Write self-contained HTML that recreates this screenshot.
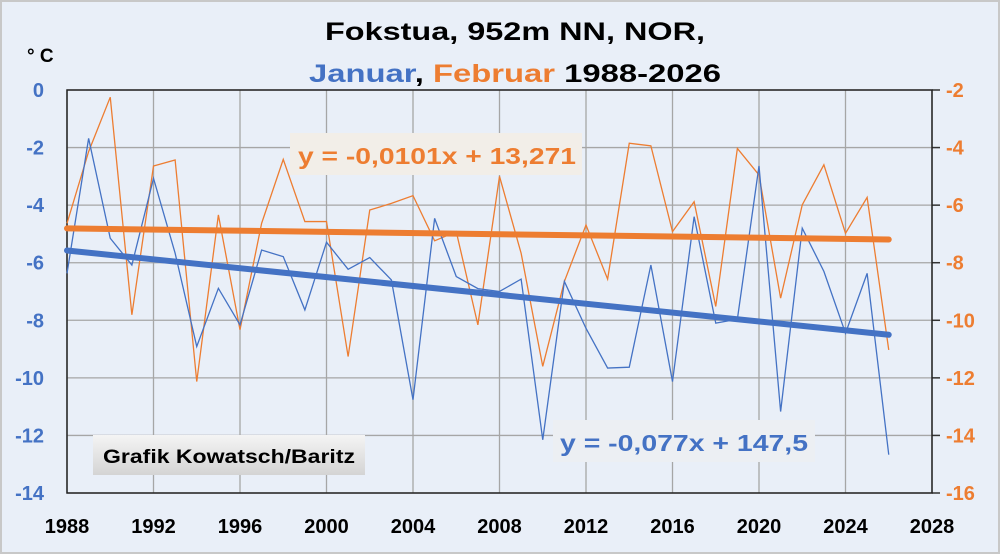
<!DOCTYPE html>
<html><head><meta charset="utf-8">
<style>
html,body{margin:0;padding:0;background:#e9eff8;}
svg{display:block;font-family:"Liberation Sans",sans-serif;}
</style></head>
<body>
<svg id="chart" width="1000" height="554" viewBox="0 0 1000 554" xmlns="http://www.w3.org/2000/svg">
<rect x="1" y="1" width="998" height="552" fill="#e9eff8" stroke="#c8c8c8" stroke-width="2"/>
<g id="grid"></g>
<g id="axes"></g>
<g id="series"></g>
<text x="515" y="40" text-anchor="middle" font-size="25" font-weight="bold" fill="#000" textLength="380" lengthAdjust="spacingAndGlyphs">Fokstua, 952m NN, NOR,</text>
<text x="515" y="82" text-anchor="middle" font-size="25" font-weight="bold" textLength="412" lengthAdjust="spacingAndGlyphs"><tspan fill="#4472c4">Januar</tspan><tspan fill="#000">, </tspan><tspan fill="#ed7d31">Februar</tspan><tspan fill="#000"> 1988-2026</tspan></text>
<text x="27" y="62" font-size="19" font-weight="bold" fill="#000">° C</text>
<rect x="290" y="133" width="292" height="42" fill="#f2eee8"/>
<text x="298" y="164" font-size="23" font-weight="bold" fill="#ed7d31" textLength="278" lengthAdjust="spacingAndGlyphs">y = -0,0101x + 13,271</text>
<rect x="553" y="420" width="262" height="42" fill="#eceff3"/>
<text x="560" y="451" font-size="23" font-weight="bold" fill="#4472c4" textLength="248" lengthAdjust="spacingAndGlyphs">y = -0,077x + 147,5</text>
<defs><linearGradient id="gb" x1="0" y1="0" x2="0" y2="1"><stop offset="0" stop-color="#f4f4f4"/><stop offset="1" stop-color="#d4d4d4"/></linearGradient></defs>
<rect x="93" y="435" width="272" height="40" fill="url(#gb)"/>
<text x="103" y="463" font-size="19" font-weight="bold" fill="#000" textLength="252" lengthAdjust="spacingAndGlyphs">Grafik Kowatsch/Baritz</text>
</svg>
<script>
const years = [1988,1989,1990,1991,1992,1993,1994,1995,1996,1997,1998,1999,2000,2001,2002,2003,2004,2005,2006,2007,2008,2009,2010,2011,2012,2013,2014,2015,2016,2017,2018,2019,2020,2021,2022,2023,2024,2025,2026];
const janValues = [-6.37,-1.68,-5.15,-6.08,-3.07,-5.67,-8.91,-6.89,-8.16,-5.56,-5.79,-7.64,-5.29,-6.23,-5.82,-6.6,-10.76,-4.46,-6.48,-6.9,-7.0,-6.57,-12.15,-6.65,-8.28,-9.66,-9.63,-6.08,-10.13,-4.4,-8.1,-7.96,-2.64,-11.17,-4.8,-6.3,-8.45,-6.37,-12.67];
const febValues = [-6.63,-4.14,-2.25,-9.81,-4.64,-4.43,-12.13,-6.34,-10.33,-6.63,-4.41,-6.57,-6.57,-11.26,-6.17,-5.94,-5.67,-7.24,-6.92,-10.16,-5.0,-7.67,-11.6,-8.65,-6.69,-8.57,-3.85,-3.94,-6.92,-5.88,-9.52,-4.03,-4.95,-9.23,-5.99,-4.6,-6.98,-5.73,-11.03];
const xTicks = [1988,1992,1996,2000,2004,2008,2012,2016,2020,2024,2028];
const leftTicks = [0,-2,-4,-6,-8,-10,-12,-14];
const rightTicks = [-2,-4,-6,-8,-10,-12,-14,-16];
const janTrend = [-0.077,147.5];
const febTrend = [-0.0101,13.271];

const NS="http://www.w3.org/2000/svg";
const X0=67,X1=932,Y0=90,Y1=493;
const xS=y=>X0+(y-1988)*(X1-X0)/40;
const yL=v=>Y0+(0-v)*(Y1-Y0)/14;
const yR=v=>Y0+(-2-v)*(Y1-Y0)/14;
function mk(tag,attrs,parent){const e=document.createElementNS(NS,tag);for(const k in attrs)e.setAttribute(k,attrs[k]);parent.appendChild(e);return e;}
const grid=document.getElementById('grid'),axes=document.getElementById('axes'),series=document.getElementById('series');
xTicks.forEach(t=>{
  const l=mk('line',{x1:xS(t),x2:xS(t),y1:Y0,y2:Y1,stroke:'#a6a6a6','stroke-width':1.3},grid);
  
  
  const tx=mk('text',{x:xS(t),y:533,'text-anchor':'middle','font-size':20,'font-weight':'bold',fill:'#000'},axes);
  tx.textContent=t;
  
  
});
leftTicks.forEach(t=>{
  const l=mk('line',{x1:X0,x2:X1,y1:yL(t),y2:yL(t),stroke:'#a6a6a6','stroke-width':1.3},grid);
  
  
  const tx=mk('text',{x:44,y:yL(t)+7,'text-anchor':'end','font-size':20,'font-weight':'bold',fill:'#4472c4'},axes);
  tx.textContent=t;
  
  
});
rightTicks.forEach(t=>{
  const tk=mk('line',{x1:X1,x2:X1+8,y1:yR(t),y2:yR(t),stroke:'#333','stroke-width':1.5},axes);
  
  
  const tx=mk('text',{x:946,y:yR(t)+7,'text-anchor':'start','font-size':20,'font-weight':'bold',fill:'#ed7d31'},axes);
  tx.textContent=t;
  
  
});
const fr=mk('rect',{x:X0,y:Y0,width:X1-X0,height:Y1-Y0,fill:'none',stroke:'#222','stroke-width':1.5},axes);


const fp=mk('polyline',{points:years.map((y,i)=>xS(y)+','+yR(febValues[i])).join(' '),fill:'none',stroke:'#ed7d31','stroke-width':1.3},series);


const jp=mk('polyline',{points:years.map((y,i)=>xS(y)+','+yL(janValues[i])).join(' '),fill:'none',stroke:'#4472c4','stroke-width':1.3},series);


const ya=years[0],yb=years[years.length-1];
const ft=mk('line',{x1:xS(ya),x2:xS(yb),y1:yR(febTrend[0]*ya+febTrend[1]),y2:yR(febTrend[0]*yb+febTrend[1]),stroke:'#ed7d31','stroke-width':6,'stroke-linecap':'round'},series);


const jt=mk('line',{x1:xS(ya),x2:xS(yb),y1:yL(janTrend[0]*ya+janTrend[1]),y2:yL(janTrend[0]*yb+janTrend[1]),stroke:'#4472c4','stroke-width':6,'stroke-linecap':'round'},series);


</script>
</body></html>
